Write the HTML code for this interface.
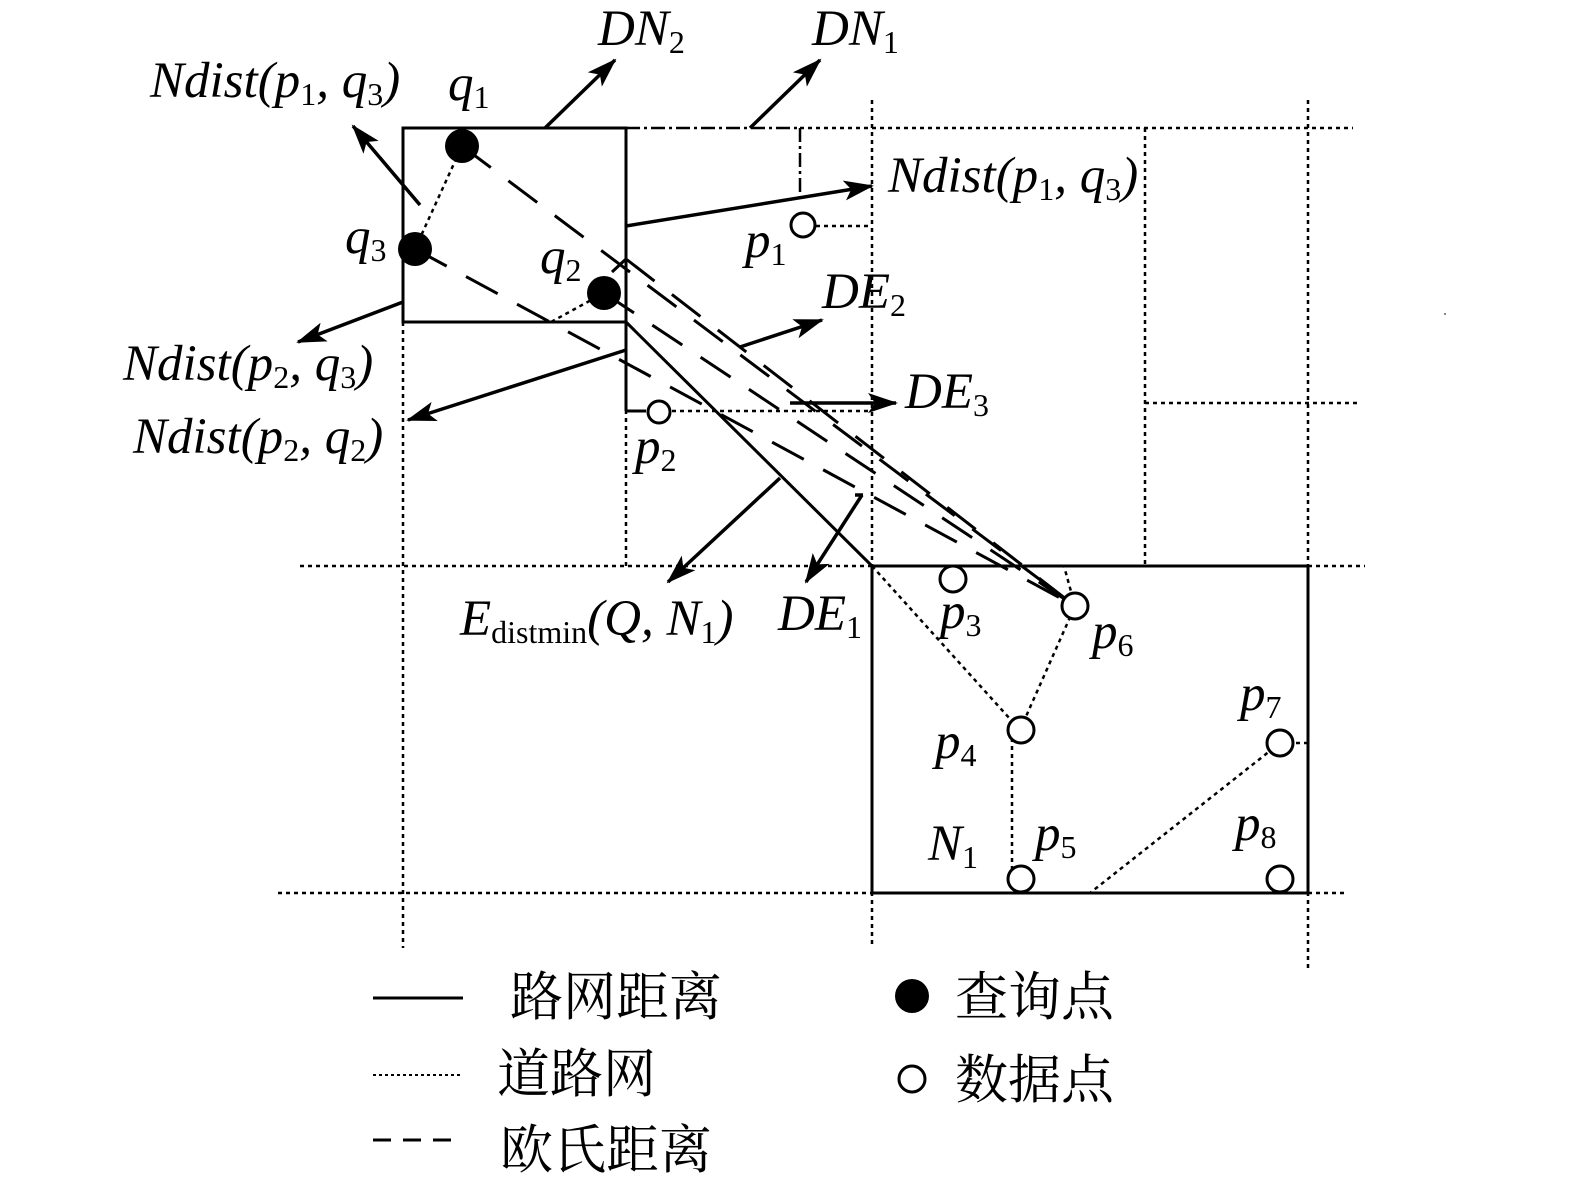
<!DOCTYPE html>
<html><head><meta charset="utf-8"><style>
html,body{margin:0;padding:0;background:#fff}
svg{display:block}
text{font-family:"Liberation Serif","Noto Serif CJK SC",serif;fill:#000}
.it{font-style:italic;font-size:51px}
.sb{font-style:normal;font-size:32px}
.cn{font-family:"Liberation Serif","Noto Serif CJK SC",serif;font-size:53px}
</style></head><body>
<svg width="1575" height="1180" viewBox="0 0 1575 1180" xmlns="http://www.w3.org/2000/svg">
<defs>
<marker id="a" viewBox="0 0 30 20" refX="28" refY="10" markerWidth="30" markerHeight="20" markerUnits="userSpaceOnUse" orient="auto">
<path d="M0,0 L30,10 L0,20 L7,10 Z" fill="#000"/>
</marker>
</defs>
<g stroke="#000" stroke-width="2.5" stroke-dasharray="4,4" fill="none">
<line x1="403" y1="322" x2="403" y2="948"/>
<line x1="626" y1="322" x2="626" y2="566"/>
<line x1="872" y1="100" x2="872" y2="948"/>
<line x1="1145" y1="128" x2="1145" y2="566"/>
<line x1="1308" y1="100" x2="1308" y2="972"/>
<line x1="800" y1="128" x2="1353" y2="128"/>
<line x1="300" y1="566" x2="872" y2="566"/>
<line x1="1308" y1="566" x2="1365" y2="566"/>
<line x1="278" y1="893" x2="872" y2="893"/>
<line x1="1308" y1="893" x2="1345" y2="893"/>
<line x1="1145" y1="403" x2="1357" y2="403"/>
<line x1="800" y1="226" x2="872" y2="226"/>
<line x1="640" y1="411" x2="872" y2="411"/>
<line x1="872" y1="566" x2="1020" y2="730"/>
<line x1="1020" y1="730" x2="1075" y2="606"/>
<line x1="1075" y1="606" x2="1064" y2="566"/>
<line x1="1012" y1="730" x2="1012" y2="880"/>
<line x1="1280" y1="743" x2="1090" y2="893"/>
<line x1="1280" y1="743" x2="1308" y2="743"/>
<line x1="415" y1="249" x2="462" y2="146"/>
<line x1="604" y1="293" x2="551" y2="322"/>
</g>
<g stroke="#000" stroke-width="2.5" stroke-dasharray="14,4,3,4" fill="none">
<line x1="626" y1="128" x2="800" y2="128"/>
<line x1="800" y1="128" x2="800" y2="200"/>
</g>
<g stroke="#000" stroke-width="3" fill="none">
<rect x="403" y="128" width="223" height="194"/>
<rect x="872" y="566" width="436" height="327"/>
<line x1="626" y1="128" x2="626" y2="411"/>
<line x1="626" y1="411" x2="646" y2="411"/>
<line x1="626" y1="322" x2="872" y2="566"/>
<line x1="612" y1="272" x2="626" y2="259"/>
</g>
<g stroke="#000" stroke-width="3" stroke-dasharray="36,22" fill="none">
<line x1="462" y1="146" x2="1075" y2="606"/>
<line x1="415" y1="249" x2="1075" y2="606"/>
<line x1="604" y1="293" x2="1075" y2="606"/>
<line x1="626" y1="259" x2="1075" y2="606"/>
</g>
<g stroke="#000" stroke-width="3.5" fill="none" marker-end="url(#a)">
<line x1="545" y1="128" x2="615" y2="60"/>
<line x1="750" y1="128" x2="820" y2="60"/>
<line x1="420" y1="205" x2="353" y2="126"/>
<line x1="626" y1="226" x2="872" y2="186"/>
<line x1="403" y1="302" x2="298" y2="342"/>
<line x1="626" y1="350" x2="408" y2="420"/>
<line x1="740" y1="347" x2="822" y2="320"/>
<line x1="790" y1="403" x2="896" y2="403"/>
<line x1="780" y1="478" x2="668" y2="582"/>
<line x1="862" y1="495" x2="806" y2="582"/>
</g>
<line x1="855" y1="495" x2="863" y2="495" stroke="#000" stroke-width="3.5"/>
<g fill="#000"><circle cx="462" cy="146" r="17"/><circle cx="415" cy="249" r="17"/><circle cx="604" cy="293" r="17"/></g>
<g fill="#fff" stroke="#000" stroke-width="3">
<circle cx="803" cy="225" r="12"/><circle cx="659" cy="412" r="11"/>
<circle cx="953" cy="579" r="13"/><circle cx="1075" cy="606" r="13"/>
<circle cx="1021" cy="730" r="13"/><circle cx="1280" cy="743" r="13"/>
<circle cx="1021" cy="879" r="13"/><circle cx="1280" cy="879" r="13"/>
</g>
<text class="it" x="598" y="45">DN<tspan class="sb" dy="8">2</tspan></text>
<text class="it" x="812" y="45">DN<tspan class="sb" dy="8">1</tspan></text>
<text class="it" x="150" y="97">Ndist(p<tspan class="sb" dy="8">1</tspan><tspan dy="-8">, q</tspan><tspan class="sb" dy="8">3</tspan><tspan dy="-8">)</tspan></text>
<text class="it" x="448" y="100">q<tspan class="sb" dy="8">1</tspan></text>
<text class="it" x="888" y="192">Ndist(p<tspan class="sb" dy="8">1</tspan><tspan dy="-8">, q</tspan><tspan class="sb" dy="8">3</tspan><tspan dy="-8">)</tspan></text>
<text class="it" x="345" y="253">q<tspan class="sb" dy="8">3</tspan></text>
<text class="it" x="745" y="257">p<tspan class="sb" dy="8">1</tspan></text>
<text class="it" x="540" y="273">q<tspan class="sb" dy="8">2</tspan></text>
<text class="it" x="822" y="308">DE<tspan class="sb" dy="8">2</tspan></text>
<text class="it" x="123" y="380">Ndist(p<tspan class="sb" dy="8">2</tspan><tspan dy="-8">, q</tspan><tspan class="sb" dy="8">3</tspan><tspan dy="-8">)</tspan></text>
<text class="it" x="905" y="408">DE<tspan class="sb" dy="8">3</tspan></text>
<text class="it" x="133" y="453">Ndist(p<tspan class="sb" dy="8">2</tspan><tspan dy="-8">, q</tspan><tspan class="sb" dy="8">2</tspan><tspan dy="-8">)</tspan></text>
<text class="it" x="635" y="463">p<tspan class="sb" dy="8">2</tspan></text>
<text class="it" x="460" y="635">E<tspan class="sb" dy="8">distmin</tspan><tspan dy="-8">(Q, N</tspan><tspan class="sb" dy="8">1</tspan><tspan dy="-8">)</tspan></text>
<text class="it" x="778" y="630">DE<tspan class="sb" dy="8">1</tspan></text>
<text class="it" x="940" y="628">p<tspan class="sb" dy="8">3</tspan></text>
<text class="it" x="1092" y="648">p<tspan class="sb" dy="8">6</tspan></text>
<text class="it" x="1240" y="710">p<tspan class="sb" dy="8">7</tspan></text>
<text class="it" x="935" y="758">p<tspan class="sb" dy="8">4</tspan></text>
<text class="it" x="928" y="860">N<tspan class="sb" dy="8">1</tspan></text>
<text class="it" x="1035" y="850">p<tspan class="sb" dy="8">5</tspan></text>
<text class="it" x="1235" y="840">p<tspan class="sb" dy="8">8</tspan></text>
<line x1="373" y1="998" x2="463" y2="998" stroke="#000" stroke-width="3"/>
<line x1="373" y1="1075" x2="463" y2="1075" stroke="#000" stroke-width="2" stroke-dasharray="3,3"/>
<line x1="373" y1="1140" x2="463" y2="1140" stroke="#000" stroke-width="3" stroke-dasharray="18,12"/>
<circle cx="912" cy="996" r="17" fill="#000"/>
<circle cx="912" cy="1079" r="13" fill="#fff" stroke="#000" stroke-width="3"/>
<text class="cn" x="510" y="1015">路网距离</text>
<text class="cn" x="497" y="1092">道路网</text>
<text class="cn" x="500" y="1168">欧氏距离</text>
<text class="cn" x="955" y="1015">查询点</text>
<text class="cn" x="955" y="1098">数据点</text>
<rect x="1444" y="313" width="2" height="2" fill="#888"/>
</svg>
</body></html>
